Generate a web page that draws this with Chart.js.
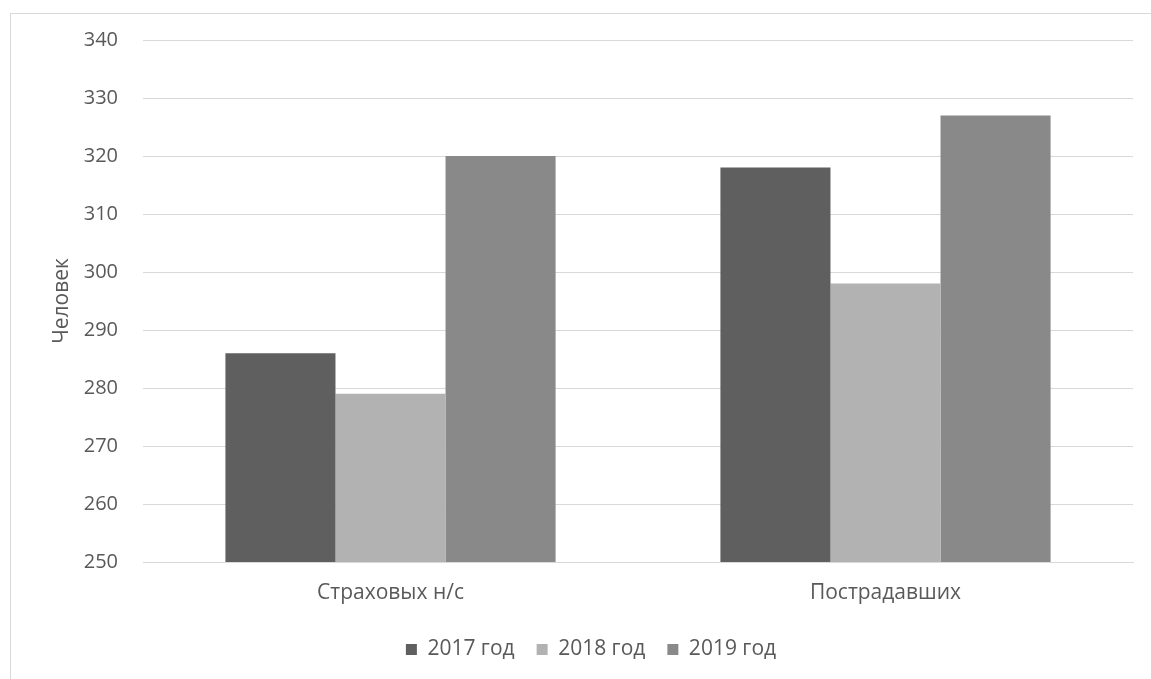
<!DOCTYPE html>
<html>
<head>
<meta charset="utf-8">
<script src="https://cdn.jsdelivr.net/npm/chart.js@4"></script>
<style>
  body { margin: 0; background: #fff; overflow: hidden; }
  #wrap { position: relative; width: 1151px; height: 679px; }
  #frame { position: absolute; left: 10px; top: 13px; width: 1160px; height: 700px; border: 1px solid #d9d9d9; box-sizing: border-box; }
  #chart { position: absolute; left: 0; top: 0; }
</style>
</head>
<body>
<div id="wrap">
  <div id="frame"></div>
  <canvas id="chart" width="1151" height="679"></canvas>
</div>
<script>
const categories = ['Страховых н/с', 'Пострадавших'];
const years = ['2017 год', '2018 год', '2019 год'];
const values2017 = [286, 318];
const values2018 = [279, 298];
const values2019 = [320, 327];
const yTicks = [250, 260, 270, 280, 290, 300, 310, 320, 330, 340];
const COLORS = ['#5f5f5f', '#b2b2b2', '#898989'];

const FONT = "'Open Sans', 'Liberation Sans', sans-serif";
const TEXT = '#595959';

const canvas = document.getElementById('chart');
new Chart(canvas.getContext('2d'), {
  type: 'bar',
  data: {
    labels: categories,
    datasets: [values2017, values2018, values2019].map((d, i) => ({
      label: years[i], data: d, backgroundColor: COLORS[i], borderWidth: 0,
      categoryPercentage: 0.667, barPercentage: 1
    }))
  },
  options: {
    responsive: false,
    animation: false,
    layout: { padding: { left: 49, top: 40, right: 18, bottom: 9 } },
    plugins: {
      tooltip: { enabled: false },
      legend: {
        position: 'bottom',
        labels: { color: TEXT, font: { family: FONT, size: 21 }, boxWidth: 11, boxHeight: 11, padding: 22 }
      }
    },
    scales: {
      x: {
        afterFit: axis => { axis.height = 55; },
        grid: { display: false, drawTicks: false },
        border: { color: '#d9d9d9', width: 1 },
        ticks: { color: TEXT, font: { family: FONT, size: 21 }, padding: 18 }
      },
      y: {
        min: yTicks[0], max: yTicks[yTicks.length - 1],
        afterBuildTicks: axis => { axis.ticks = yTicks.map(v => ({ value: v })); },
        afterFit: axis => { axis.width = 94; },
        grid: { color: '#d9d9d9', drawTicks: false },
        border: { display: false },
        ticks: { color: TEXT, font: { family: FONT, size: 20 }, padding: 25 },
        title: { display: true, text: 'Человек', color: TEXT, font: { family: FONT, size: 21 }, padding: { top: 0, bottom: 0 } }
      }
    }
  }
});
</script>
</body>
</html>
